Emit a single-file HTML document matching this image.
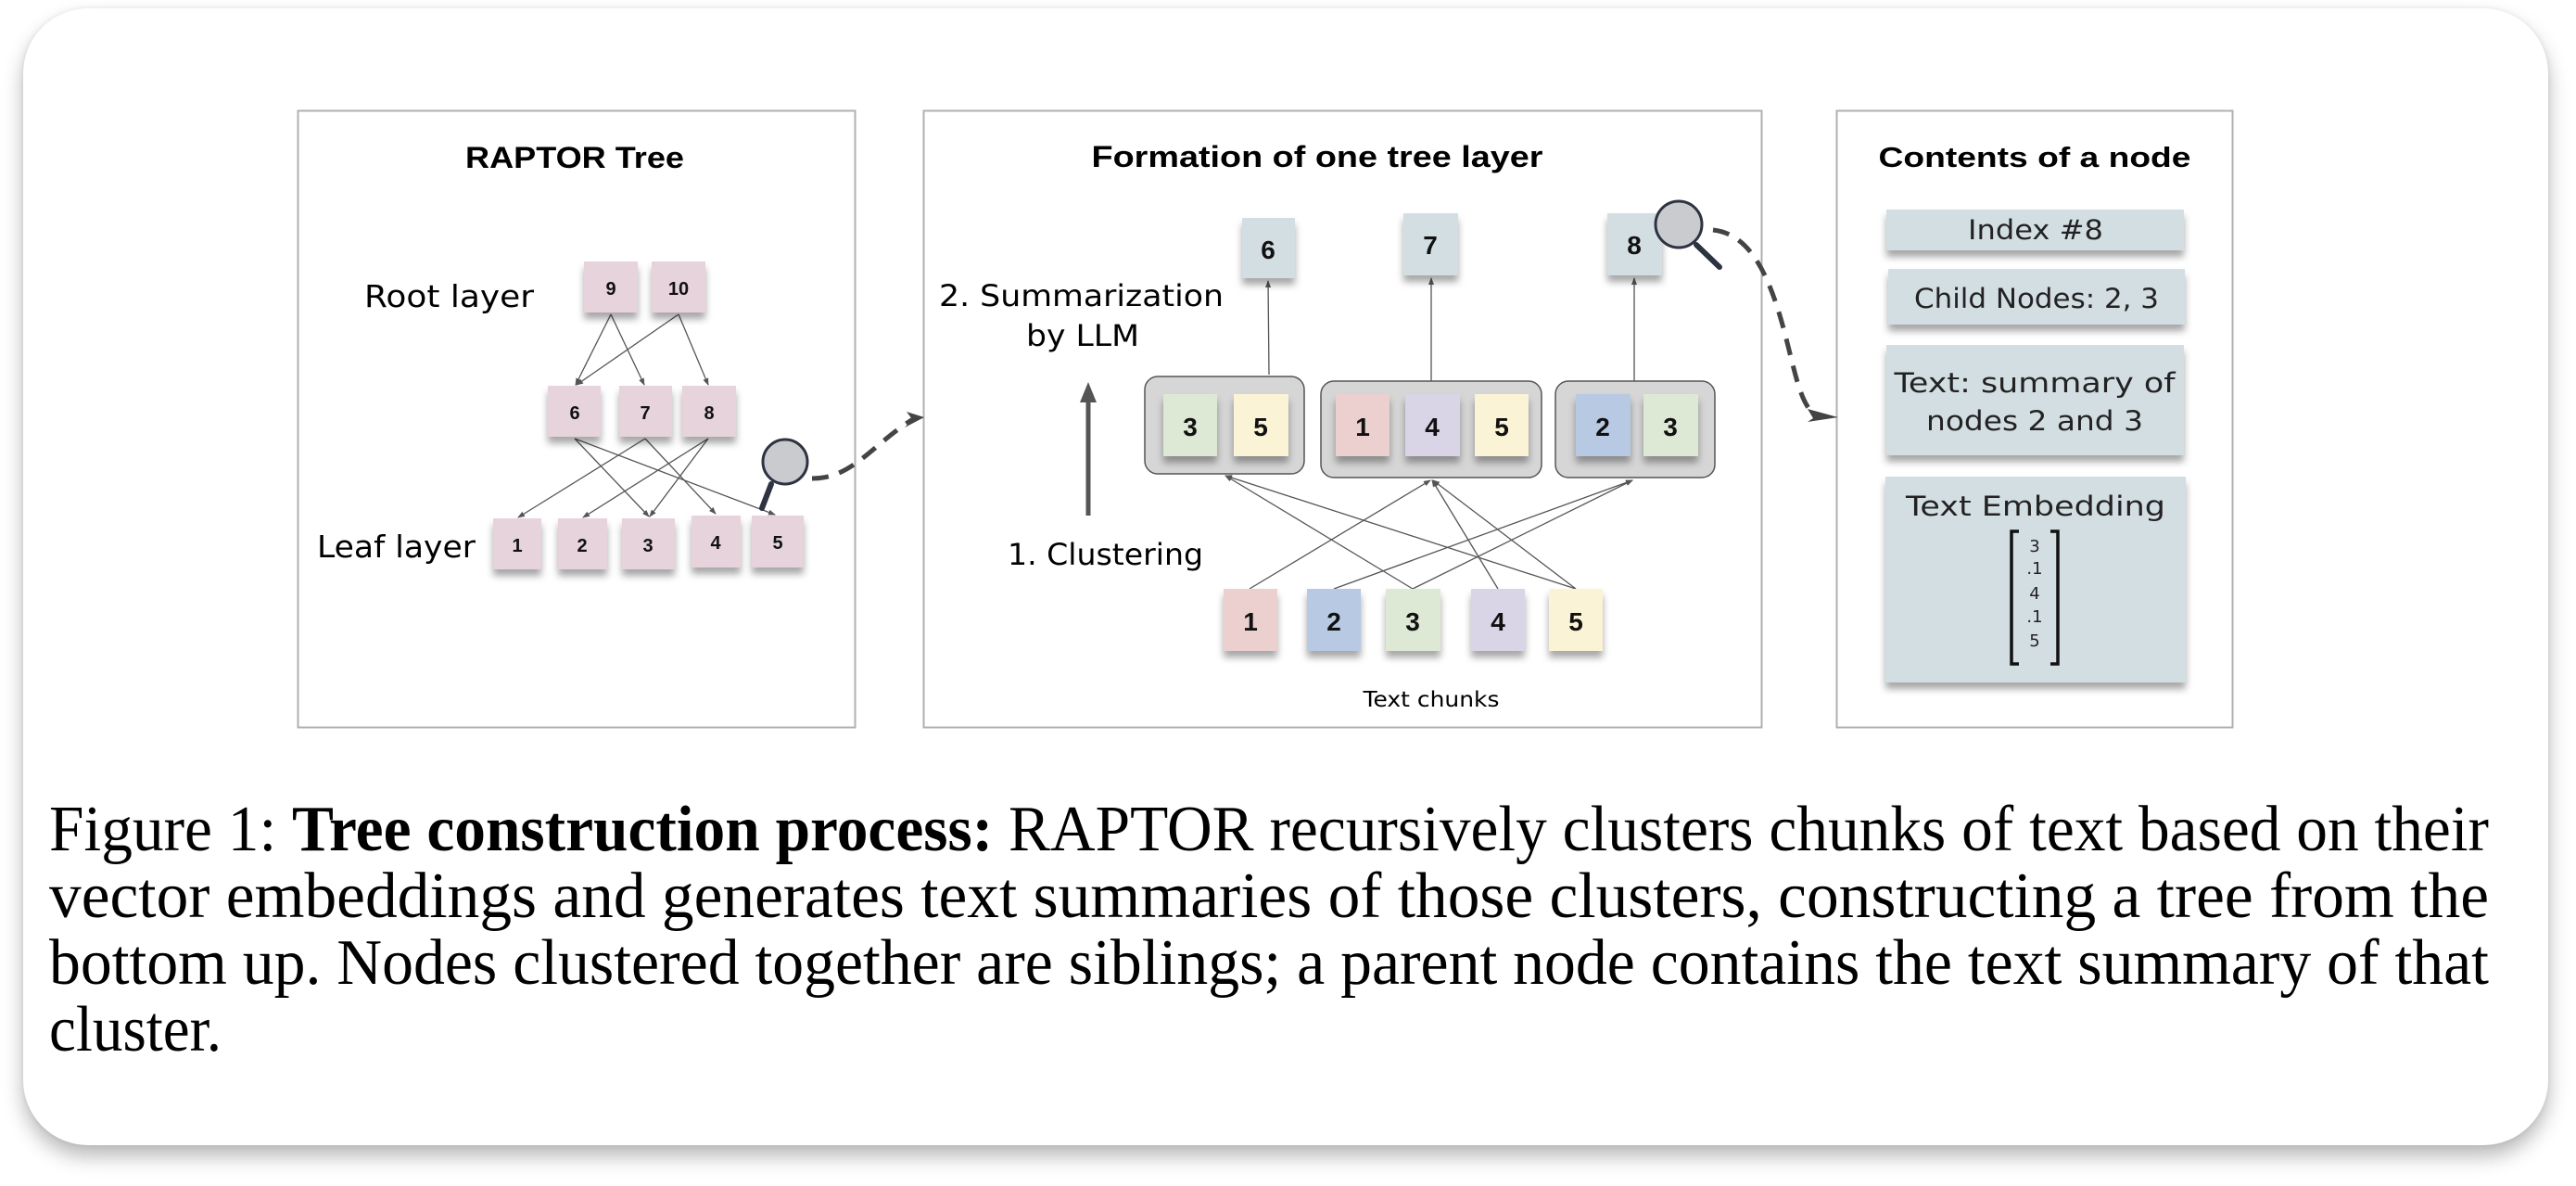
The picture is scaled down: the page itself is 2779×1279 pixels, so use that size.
<!DOCTYPE html>
<html><head><meta charset="utf-8"><style>
html,body{margin:0;padding:0;background:#fff;width:2779px;height:1279px;overflow:hidden}
.card{position:absolute;left:25px;top:9px;width:2724px;height:1226px;border-radius:70px;background:#fff;box-shadow:0 12px 22px rgba(0,0,0,0.28),0 0 6px rgba(0,0,0,0.08)}
svg{position:absolute;left:0;top:0}
.sans{font-family:"DejaVu Sans","Liberation Sans",sans-serif}
.b{font-family:"Liberation Sans",sans-serif;font-weight:bold}
.ser{font-family:"Liberation Serif",serif}
</style></head><body>
<div class="card"></div>
<svg width="2779" height="1279" viewBox="0 0 2779 1279">
<defs>
<filter id="sh" x="-30%" y="-30%" width="160%" height="180%"><feDropShadow dx="0" dy="7" stdDeviation="4" flood-color="#000" flood-opacity="0.35"/></filter>
<marker id="ah" markerWidth="8" markerHeight="8" refX="7" refY="4" orient="auto" markerUnits="userSpaceOnUse"><path d="M0,1 L8,4 L0,7 z" fill="#555"/></marker>
</defs>

<rect x="321.5" y="119.5" width="601" height="665" fill="#fff" stroke="#b0b0b0" stroke-width="2"/>
<rect x="996.5" y="119.5" width="904" height="665" fill="#fff" stroke="#b0b0b0" stroke-width="2"/>
<rect x="1981.5" y="119.5" width="427" height="665" fill="#fff" stroke="#b0b0b0" stroke-width="2"/>

<!-- Panel 1 -->
<text x="620" y="181" text-anchor="middle" class="b" font-size="32" textLength="236" lengthAdjust="spacingAndGlyphs">RAPTOR Tree</text>
<text x="393" y="331" class="sans" font-size="33" textLength="183" lengthAdjust="spacingAndGlyphs">Root layer</text>
<text x="342" y="601" class="sans" font-size="33" textLength="171" lengthAdjust="spacingAndGlyphs">Leaf layer</text>
<g stroke="#555" stroke-width="1.3" marker-end="url(#ah)">
<line x1="659" y1="339" x2="621" y2="415"/>
<line x1="659" y1="339" x2="695" y2="415"/>
<line x1="732" y1="339" x2="622" y2="415"/>
<line x1="732" y1="339" x2="764" y2="415"/>
<line x1="620" y1="473" x2="700" y2="557"/>
<line x1="620" y1="473" x2="836" y2="555"/>
<line x1="696" y1="473" x2="559" y2="558"/>
<line x1="696" y1="473" x2="772" y2="554"/>
<line x1="764" y1="473" x2="629" y2="558"/>
<line x1="764" y1="473" x2="701" y2="557"/>
</g>
<g fill="#e6d3dc" filter="url(#sh)">
<rect x="630" y="282" width="58" height="55"/><rect x="703" y="282" width="58" height="55"/>
<rect x="591" y="416" width="57" height="55"/><rect x="668" y="416" width="57" height="55"/><rect x="736" y="416" width="58" height="55"/>
<rect x="532" y="559" width="52" height="55"/><rect x="602" y="559" width="53" height="55"/><rect x="671" y="559" width="57" height="55"/><rect x="746" y="556" width="53" height="56"/><rect x="811" y="556" width="56" height="56"/>
</g>
<g class="b" font-size="20" text-anchor="middle" fill="#111">
<text x="659" y="318">9</text><text x="732" y="318">10</text>
<text x="620" y="452">6</text><text x="696" y="452">7</text><text x="765" y="452">8</text>
<text x="558" y="595">1</text><text x="628" y="595">2</text><text x="699" y="595">3</text><text x="772" y="592">4</text><text x="839" y="592">5</text>
</g>
<line x1="832" y1="522" x2="822" y2="548" stroke="#2d3340" stroke-width="6" stroke-linecap="round"/>
<circle cx="847" cy="498" r="24" fill="#c9cbcf" stroke="#2d3340" stroke-width="3"/>
<path d="M876,516 C920,516 940,480 985,452" fill="none" stroke="#444" stroke-width="5" stroke-dasharray="18,12"/>
<path d="M997,450 L978,444 L984,452 L976,461 z" fill="#444"/>

<!-- Panel 2 -->
<text x="1421" y="180" text-anchor="middle" class="b" font-size="32" textLength="487" lengthAdjust="spacingAndGlyphs">Formation of one tree layer</text>
<text x="1013" y="330" class="sans" font-size="32" textLength="307" lengthAdjust="spacingAndGlyphs">2. Summarization</text>
<text x="1107" y="373" class="sans" font-size="32" textLength="122" lengthAdjust="spacingAndGlyphs">by LLM</text>
<text x="1087" y="609" class="sans" font-size="32" textLength="211" lengthAdjust="spacingAndGlyphs">1. Clustering</text>
<line x1="1174" y1="556" x2="1174" y2="428" stroke="#555" stroke-width="5"/>
<path d="M1174,412 L1165,434 L1183,434 z" fill="#555"/>
<text x="1544" y="762" text-anchor="middle" class="sans" font-size="23" textLength="147" lengthAdjust="spacingAndGlyphs">Text chunks</text>

<g stroke="#555" stroke-width="1.3" marker-end="url(#ah)">
<line x1="1369" y1="404" x2="1368" y2="303"/>
<line x1="1544" y1="411" x2="1544" y2="300"/>
<line x1="1763" y1="411" x2="1763" y2="300"/>
<line x1="1348" y1="635" x2="1543" y2="518"/>
<line x1="1439" y1="635" x2="1761" y2="518"/>
<line x1="1524" y1="635" x2="1322" y2="513"/>
<line x1="1524" y1="635" x2="1761" y2="518"/>
<line x1="1616" y1="635" x2="1545" y2="518"/>
<line x1="1700" y1="635" x2="1322" y2="513"/>
<line x1="1700" y1="635" x2="1546" y2="518"/>
</g>
<g fill="#d6d6d6" stroke="#555" stroke-width="1.5">
<rect x="1235" y="406" width="172" height="105" rx="14"/>
<rect x="1425" y="411" width="238" height="104" rx="14"/>
<rect x="1678" y="411" width="172" height="104" rx="14"/>
</g>
<g filter="url(#sh)">
<rect x="1340" y="235" width="57" height="65" fill="#d3dee3"/>
<rect x="1514" y="230" width="59" height="67" fill="#d3dee3"/>
<rect x="1734" y="230" width="59" height="67" fill="#d3dee3"/>
<rect x="1255" y="425" width="58" height="67" fill="#dde8d5"/>
<rect x="1331" y="425" width="59" height="67" fill="#fbf3d5"/>
<rect x="1441" y="425" width="58" height="67" fill="#ecd0d0"/>
<rect x="1516" y="425" width="59" height="67" fill="#d9d5e6"/>
<rect x="1591" y="425" width="58" height="67" fill="#fbf3d5"/>
<rect x="1700" y="425" width="59" height="67" fill="#b7c9e3"/>
<rect x="1773" y="425" width="59" height="67" fill="#dde8d5"/>
<rect x="1320" y="635" width="58" height="67" fill="#ecd0d0"/>
<rect x="1410" y="635" width="58" height="67" fill="#b7c9e3"/>
<rect x="1495" y="635" width="59" height="67" fill="#dde8d5"/>
<rect x="1587" y="635" width="58" height="67" fill="#d9d5e6"/>
<rect x="1671" y="635" width="58" height="67" fill="#fbf3d5"/>
</g>
<g class="b" font-size="28" text-anchor="middle" fill="#111">
<text x="1368" y="279">6</text><text x="1543" y="274">7</text><text x="1763" y="274">8</text>
<text x="1284" y="470">3</text><text x="1360" y="470">5</text>
<text x="1470" y="470">1</text><text x="1545" y="470">4</text><text x="1620" y="470">5</text>
<text x="1729" y="470">2</text><text x="1802" y="470">3</text>
<text x="1349" y="680">1</text><text x="1439" y="680">2</text><text x="1524" y="680">3</text><text x="1616" y="680">4</text><text x="1700" y="680">5</text>
</g>
<line x1="1830" y1="264" x2="1855" y2="288" stroke="#2d3340" stroke-width="6" stroke-linecap="round"/>
<circle cx="1811" cy="242" r="25" fill="#c9cbcf" stroke="#2d3340" stroke-width="3"/>
<path d="M1848,248 C1885,252 1905,290 1920,340 C1935,390 1940,435 1958,447" fill="none" stroke="#444" stroke-width="5" stroke-dasharray="18,12"/>
<path d="M1983,450 L1950,441 L1956,451 L1950,455 z" fill="#444"/>

<!-- Panel 3 -->
<text x="2195" y="180" text-anchor="middle" class="b" font-size="31" textLength="337" lengthAdjust="spacingAndGlyphs">Contents of a node</text>
<g fill="#d3dee3" filter="url(#sh)">
<rect x="2035" y="226" width="321" height="44"/>
<rect x="2037" y="290" width="320" height="60"/>
<rect x="2035" y="372" width="321" height="119"/>
<rect x="2034" y="514" width="324" height="222"/>
</g>
<g class="sans" font-size="29" text-anchor="middle" fill="#222">
<text x="2196" y="258" textLength="146" lengthAdjust="spacingAndGlyphs">Index #8</text>
<text x="2197" y="332" textLength="264" lengthAdjust="spacingAndGlyphs">Child Nodes: 2, 3</text>
<text x="2195" y="423" textLength="303" lengthAdjust="spacingAndGlyphs">Text:  summary of</text>
<text x="2195" y="464" textLength="234" lengthAdjust="spacingAndGlyphs">nodes 2 and 3</text>
<text x="2196" y="556" textLength="280" lengthAdjust="spacingAndGlyphs">Text Embedding</text>
</g>
<g fill="none" stroke="#111" stroke-width="3.5">
<path d="M2178,573 L2170,573 L2170,716 L2178,716"/>
<path d="M2212,573 L2220,573 L2220,716 L2212,716"/>
</g>
<g class="sans" font-size="18" text-anchor="middle" fill="#222">
<text x="2195" y="595">3</text><text x="2195" y="619">.1</text><text x="2195" y="646">4</text><text x="2195" y="671">.1</text><text x="2195" y="697">5</text>
</g>

<!-- caption -->
<g class="ser" font-size="70" fill="#000">
<text x="53" y="917" textLength="2632" lengthAdjust="spacingAndGlyphs">Figure 1: <tspan font-weight="bold">Tree construction process:</tspan> RAPTOR recursively clusters chunks of text based on their</text>
<text x="53" y="989" textLength="2632" lengthAdjust="spacingAndGlyphs">vector embeddings and generates text summaries of those clusters, constructing a tree from the</text>
<text x="53" y="1061" textLength="2632" lengthAdjust="spacingAndGlyphs">bottom up.  Nodes clustered together are siblings; a parent node contains the text summary of that</text>
<text x="53" y="1133" textLength="186" lengthAdjust="spacingAndGlyphs">cluster.</text>
</g>
</svg>
</body></html>
